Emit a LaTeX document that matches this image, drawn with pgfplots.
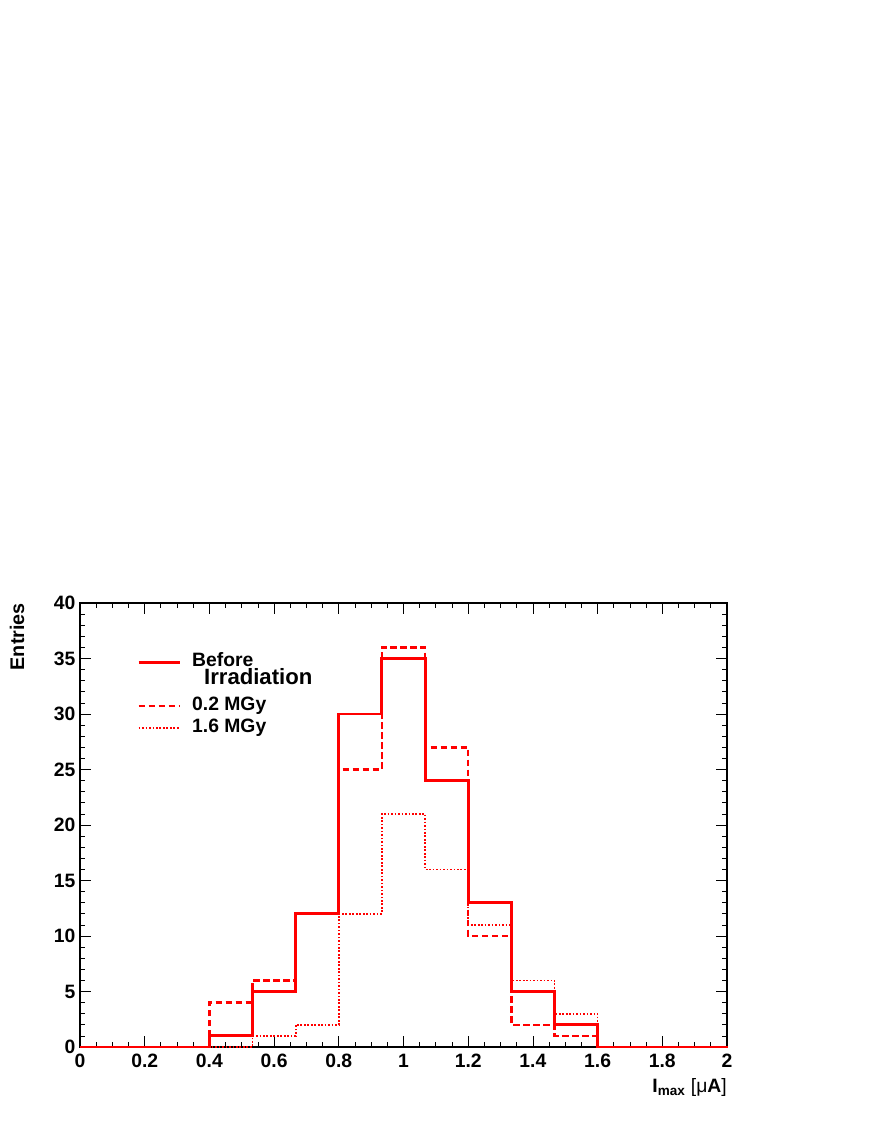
\documentclass[border=0pt]{standalone}
\usepackage{pgfplots}
\pgfplotsset{compat=1.18}
\usepackage{fontspec}
\setmainfont{Liberation Sans}

\definecolor{rootred}{RGB}{255,0,0}

\begin{document}
\begin{tikzpicture}
\path[use as bounding box] (-60pt,-60.75pt) rectangle (594pt,785.25pt);
\begin{axis}[
    at={(0pt,0pt)}, anchor=south west,
    scale only axis,
    width=485.25pt, height=333pt,
    xmin=0, xmax=2, ymin=0, ymax=40,
    xtick={0,0.2,0.4,0.6,0.8,1,1.2,1.4,1.6,1.8,2},
    ytick={0,5,10,15,20,25,30,35,40},
    minor x tick num=3, minor y tick num=4,
    tick align=inside, tick pos=both,
    major tick length=8pt, minor tick length=4pt,
    every tick/.style={black, line width=0.6pt},
    axis line style={line width=0.8pt},
    clip=false,
    /pgf/number format/assume math mode=true,
    tick label style={font=\bfseries\fontsize{14.5}{16}\selectfont},
    xticklabel style={yshift=-2pt},
    ylabel={\textbf{Entries}},
    ylabel style={at={(axis description cs:-0.0855,1)}, anchor=south east, inner sep=0pt,
        font=\fontsize{14.8}{16}\selectfont},
    xlabel={\textbf{I\textsubscript{max}} {\mdseries[μ}\textbf{A}{\mdseries]}},
    xlabel style={at={(axis description cs:1,-0.07)}, anchor=north east, inner sep=0pt,
        font=\fontsize{14.5}{16}\selectfont},
    legend image code/.code={\draw[#1] (0pt,0pt) -- (31pt,0pt);},
    legend cell align=left,
    legend style={at={(axis description cs:0.088,0.89)}, anchor=north west,
        draw=none, fill=none, inner sep=0pt, column sep=7pt, row sep=1.5pt,
        font=\bfseries\fontsize{14.5}{16}\selectfont,
        nodes={inner sep=1pt, text height=10pt, text depth=3pt}},
]
\addlegendimage{rootred, line width=2.2pt}
\addlegendentry{Before}
\addlegendimage{empty legend}
\addlegendentry{\hspace*{9pt}\raisebox{3.5pt}{\fontsize{16.6}{18}\selectfont Irradiation}}
\addlegendimage{rootred, line width=1.8pt, dash pattern=on 5pt off 2.5pt}
\addlegendentry{0.2 MGy}
\addlegendimage{rootred, line width=1.3pt, dash pattern=on 1.3pt off 1.3pt}
\addlegendentry{1.6 MGy}

% 1.6 MGy
\addplot[const plot, rootred, line width=1.3pt, dash pattern=on 1.3pt off 1.3pt, forget plot]
    coordinates {(0,0) (0.5333,1) (0.6667,2) (0.8,12) (0.9333,21) (1.0667,16)
    (1.2,11) (1.3333,6) (1.4667,3) (1.6,0) (2,0)};
% 0.2 MGy
\addplot[const plot, rootred, line width=1.8pt, dash pattern=on 5pt off 2.5pt, forget plot]
    coordinates {(0,0) (0.4,4) (0.5333,6) (0.6667,12) (0.8,25) (0.9333,36) (1.0667,27)
    (1.2,10) (1.3333,2) (1.4667,1) (1.6,0) (2,0)};
% before irradiation
\addplot[const plot, rootred, line width=2.2pt, forget plot]
    coordinates {(0,0) (0.4,1) (0.5333,5) (0.6667,12) (0.8,30) (0.9333,35) (1.0667,24)
    (1.2,13) (1.3333,5) (1.4667,2) (1.6,0) (2,0)};
\end{axis}
\end{tikzpicture}
\end{document}
